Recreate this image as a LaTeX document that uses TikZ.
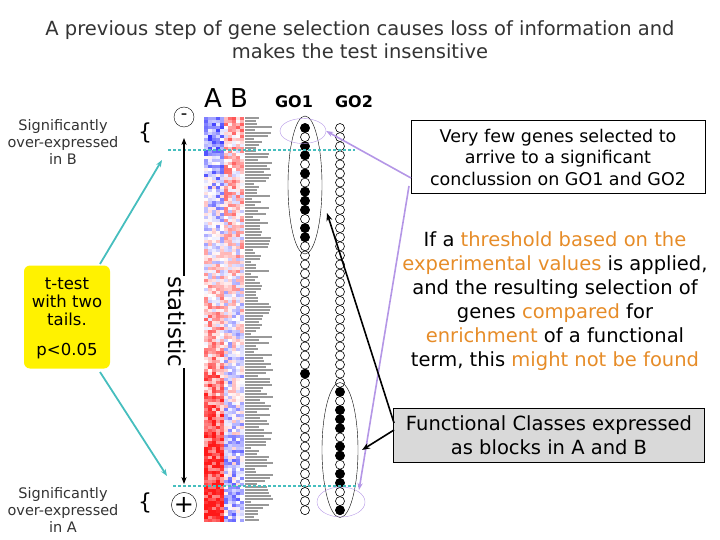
\documentclass[tikz,border=0pt]{standalone}
\usepackage{fontspec}
\setmainfont{DejaVu Sans}
\usetikzlibrary{arrows.meta,shapes.geometric}
\definecolor{orng}{RGB}{230,140,40}
\definecolor{cyn}{RGB}{70,190,190}
\definecolor{purp}{RGB}{180,150,230}
\begin{document}
\begin{tikzpicture}[x=1pt,y=-1pt,
  sm/.style={font=\fontsize{14.5}{17}\selectfont,align=center,text=black!80},
  gc/.style={draw,fill=white,line width=0.6pt}]
\useasboundingbox (0,0) rectangle (720,540);
\node[text=black!80,align=center,font=\fontsize{19.5}{23}\selectfont] (title) at (360,40) {A previous step of gene selection causes loss of information and\\makes the test insensitive};
% heatmap
\pgfmathsetseed{7}
\foreach \j in {0,...,134}{
  \foreach \i in {0,...,9}{
    \pgfmathsetmacro{\bias}{\i<5 ? (-0.5+1.5*\j/134) : (0.3-0.6*\j/134)}
    \pgfmathsetmacro{\v}{rand*0.45+\bias}
    \pgfmathsetmacro{\pr}{min(90,max(0,\v*90))}
    \pgfmathsetmacro{\pb}{min(80,max(0,-\v*90))}
    \ifdim\v pt>0pt
      \fill[red!\pr!white] (204+\i*4,117+\j*3) rectangle +(4.05,3.05);
    \else
      \fill[blue!\pb!white] (204+\i*4,117+\j*3) rectangle +(4.05,3.05);
    \fi
  }
  \pgfmathsetmacro{\w}{6+rnd*22}
  \draw[black!40,line width=1.4pt] (245,118+\j*3) -- +(\w,0);
}
\node[font=\fontsize{26}{26}\selectfont] (AB) at (226,98) {A B};
\node[font=\bfseries\fontsize{16}{16}\selectfont] (go1) at (294,102) {GO1};
\node[font=\bfseries\fontsize{16}{16}\selectfont] (go2) at (354,102) {GO2};
% circles
\foreach \k in {0,...,42}{
  \node[gc,circle,inner sep=0pt,minimum size=9pt] (a\k) at (305,128+\k*9.1) {};
  \node[gc,circle,inner sep=0pt,minimum size=9pt] (b\k) at (340,128+\k*9.1) {};
}
\foreach \k in {0,2,3,5,7,8,9,11,12,27}{\fill (a\k) circle (4.8);}
\foreach \k in {29,31,32,33,35,36,38,39,42}{\fill (b\k) circle (4.8);}
\node[draw,ellipse,minimum width=34pt,minimum height=138pt] (e1) at (305,185) {};
\node[draw,ellipse,minimum width=36pt,minimum height=135pt] (e2) at (340,450) {};
\node[draw=purp,ellipse,minimum width=46pt,minimum height=25pt] (p1) at (303,131) {};
\node[draw=purp,ellipse,minimum width=48pt,minimum height=30pt] (p2) at (341,502) {};
% dashed
\coordinate (d1a) at (168,150); \coordinate (d1b) at (355,150);
\coordinate (d2a) at (173,486); \coordinate (d2b) at (362,486);
\draw[cyn,line width=2.2pt,dash pattern=on 3pt off 2pt] (d1a) -- (d1b);
\draw[cyn,line width=2.2pt,dash pattern=on 3pt off 2pt] (d2a) -- (d2b);
% statistic
\node[draw,circle,inner sep=0pt,minimum size=20pt,font=\fontsize{18}{18}\selectfont] (minus) at (184,117) {-};
\node[draw,circle,inner sep=0pt,minimum size=20pt,font=\fontsize{24}{24}\selectfont] (plus) at (184,505) {+};
\coordinate (st) at (184,138); \coordinate (sb) at (184,484);
\draw[line width=1.3pt,{Stealth[length=7pt]}-{Stealth[length=7pt]}] (st) -- (sb);
\node[rotate=-90,fill=white,inner sep=1pt,font=\fontsize{23}{23}\selectfont] (stat) at (177,322) {statistic};
% braces
\node[font=\fontsize{22}{22}\selectfont] (br1) at (145,133) {\{};
\node[font=\fontsize{22}{22}\selectfont] (br2) at (145,503) {\{};
\node[sm] (sB) at (63,142) {Significantly\\over-expressed\\in B};
\node[sm] (sA) at (63,510) {Significantly\\over-expressed\\in A};
\node[fill=yellow,rounded corners=6pt,minimum width=86pt,minimum height=103pt] (yb) at (67,317) {};
\node[align=center,font=\fontsize{16.5}{18}\selectfont] (tt) at (67,302) {t-test\\with two\\tails.};
\node[font=\fontsize{16.5}{18}\selectfont] (pv) at (67,351) {p<0.05};
\coordinate (c1) at (100,264); \coordinate (c1e) at (162,160);
\coordinate (c2) at (100,372); \coordinate (c2e) at (167,476);
\draw[cyn,line width=1.8pt,-{Stealth[length=7pt]}] (c1) -- (c1e);
\draw[cyn,line width=1.8pt,-{Stealth[length=7pt]}] (c2) -- (c2e);
% right boxes
\node[draw,fill=white,minimum width=294pt,minimum height=73pt,align=center,font=\fontsize{17.5}{21.5}\selectfont] (vb) at (558,157) {Very few genes selected to\\arrive to a significant\\conclussion on GO1 and GO2};
\coordinate (v1) at (411,178); \coordinate (v2) at (409,186);
\draw[purp,line width=1.6pt,-{Stealth[length=7pt]}] (v1) -- (p1.east);
\draw[purp,line width=1.6pt,-{Stealth[length=7pt]}] (v2) -- (359,490);
\node[align=center,font=\fontsize{19.5}{24}\selectfont] (para) at (555,301) {If a \textcolor{orng}{threshold based on the}\\\textcolor{orng}{experimental values} is applied,\\and the resulting selection of\\genes \textcolor{orng}{compared} for\\\textcolor{orng}{enrichment} of a functional\\term, this \textcolor{orng}{might not be found}};
\node[draw,fill=black!15,minimum width=311pt,minimum height=54pt,align=center,font=\fontsize{19.5}{24}\selectfont] (fb) at (549,435) {Functional Classes expressed\\as blocks in A and B};
\coordinate (f1) at (394,423); \coordinate (f2) at (394,430);
\draw[line width=1.6pt,-{Stealth[length=8pt]}] (f1) -- (327,213);
\draw[line width=1.6pt,-{Stealth[length=8pt]}] (f2) -- (362,450);
\end{tikzpicture}
\end{document}
